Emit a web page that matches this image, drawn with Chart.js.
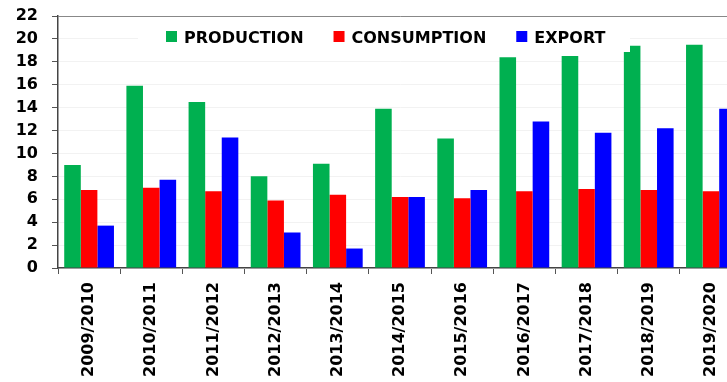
<!DOCTYPE html>
<html>
<head>
<meta charset="utf-8">
<script src="https://cdn.jsdelivr.net/npm/chart.js@4"></script>
<style>
  html, body { margin: 0; padding: 0; background: #fff; overflow: hidden; }
  #wrap { position: relative; width: 745px; height: 382px; }
</style>
</head>
<body>
<div id="wrap"><canvas id="myChart"></canvas></div>
<script>
const seasons = ['2009/2010', '2010/2011', '2011/2012', '2012/2013', '2013/2014', '2014/2015',
  '2015/2016', '2016/2017', '2017/2018', '2018/2019', '2019/2020']
const production = [9.0, 15.9, 14.5, 8.0, 9.1, 13.9, 11.3, 18.4, 18.5, 19.4, 19.5]
const consumption = [6.8, 7.0, 6.7, 5.9, 6.4, 6.2, 6.1, 6.7, 6.9, 6.8, 6.7]
const exports_ = [3.7, 7.7, 11.4, 3.1, 1.7, 6.2, 6.8, 12.8, 11.8, 12.2, 13.9]
const yTicks = [0, 2, 4, 6, 8, 10, 12, 14, 16, 18, 20, 22]

const heavy = '"DejaVu Sans", sans-serif'

// legend sits on a white box that overlaps the top of the plot
const boxLegend = {
  id: 'boxLegend',
  afterDatasetsDraw(chart) {
    const ctx = chart.ctx
    ctx.save()
    ctx.fillStyle = '#fff'
    ctx.fillRect(138, 22, 492, 30)
    ctx.font = 'bold 16px ' + heavy
    ctx.textBaseline = 'alphabetic'
    let x = 166
    chart.data.datasets.forEach(ds => {
      ctx.fillStyle = ds.backgroundColor
      ctx.fillRect(x, 31, 11, 11)
      x += 18
      ctx.fillStyle = '#000'
      ctx.fillText(ds.label, x, 42.5)
      x += ctx.measureText(ds.label).width + 30
    })
    ctx.restore()
  }
}

const ctx = document.getElementById('myChart').getContext('2d')
const myChart = new Chart(ctx, {
  type: 'bar',
  data: {
    labels: seasons,
    datasets: [
      { label: 'PRODUCTION', data: production, backgroundColor: '#00b050' },
      { label: 'CONSUMPTION', data: consumption, backgroundColor: '#ff0000' },
      { label: 'EXPORT', data: exports_, backgroundColor: '#0000ff' }
    ]
  },
  options: {
    responsive: true,
    maintainAspectRatio: false,
    animation: false,
    datasets: {
      bar: { categoryPercentage: 0.8, barPercentage: 1.0, borderWidth: 0 }
    },
    layout: { padding: { top: 16, right: 3, left: 0, bottom: 0 } },
    plugins: {
      legend: { display: false },
      tooltip: { enabled: false }
    },
    scales: {
      x: {
        afterFit(scale) { scale.height = 114 },
        grid: {
          offset: true,
          drawOnChartArea: false,
          drawTicks: true,
          tickLength: 6,
          tickColor: '#555'
        },
        border: { color: '#444', width: 1.5 },
        ticks: {
          color: '#000',
          minRotation: 90,
          maxRotation: 90,
          autoSkip: false,
          padding: 8,
          font: { family: heavy, size: 16, weight: 'bold' }
        }
      },
      y: {
        min: 0,
        max: 22,
        afterFit(scale) {
          scale.width = 58
          scale.paddingTop = 0
          scale.paddingBottom = 0
        },
        afterBuildTicks(scale) { scale.ticks = yTicks.map(v => ({ value: v })) },
        grid: {
          color: c => (c.tick && c.tick.value === 22 ? '#888' : '#f2f2f2'),
          tickColor: '#555',
          tickLength: 6
        },
        border: { color: '#444', width: 1.5 },
        ticks: {
          color: '#000',
          autoSkip: false,
          padding: 14,
          font: { family: heavy, size: 16, weight: 'bold' }
        }
      }
    }
  },
  plugins: [boxLegend]
})
</script>
</body>
</html>
